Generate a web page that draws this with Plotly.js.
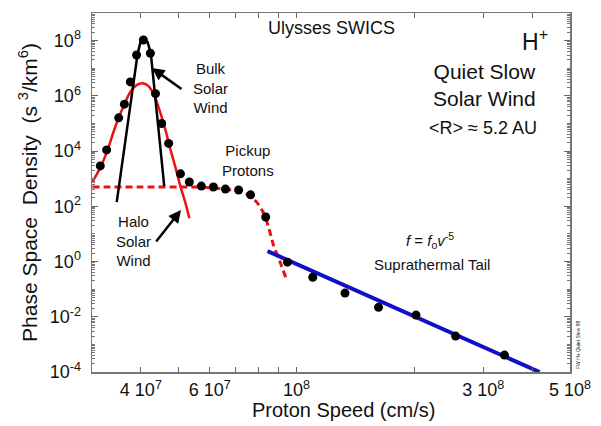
<!DOCTYPE html>
<html>
<head>
<meta charset="utf-8">
<script src="https://cdn.plot.ly/plotly-3.0.1.min.js"></script>
<style>html,body{margin:0;padding:0;background:#fff;}#chart{width:601px;height:426px;}</style>
</head>
<body>
<div id="chart"></div>
<script>
// ---- Data ----
// Measured phase space density points (black dots)
const speedPts = [3.15e7, 3.27e7, 3.51e7, 3.63e7, 3.76e7, 3.90e7, 4.06e7, 4.23e7, 4.36e7, 4.52e7, 4.71e7,
                  5.05e7, 5.32e7, 5.71e7, 6.13e7, 6.58e7, 7.11e7, 7.63e7, 8.34e7, 9.48e7,
                  1.10e8, 1.33e8, 1.62e8, 2.02e8, 2.55e8, 3.40e8];
const densPts  = [2.9e3, 1.1e4, 1.6e5, 5.0e5, 3.2e6, 3.0e7, 1.05e8, 3.5e7, 1.2e6, 1.0e5, 1.9e4,
                  1.5e3, 7.6e2, 5.4e2, 5.0e2, 4.2e2, 3.9e2, 2.6e2, 41, 0.95,
                  0.27, 0.072, 0.022, 0.0115, 0.002, 4.1e-4];

// Bulk solar wind fit (black)
const bulkSpeed = [3.47e7, 3.92e7, 3.99e7, 4.06e7, 4.16e7, 4.24e7, 4.59e7];
const bulkDens  = [141, 3.0e7, 8.9e7, 1.23e8, 8.9e7, 3.55e7, 537];

// Halo solar wind fit (red solid)
const haloSpeed = [3.006e7, 3.155e7, 3.289e7, 3.404e7, 3.508e7, 3.631e7, 3.758e7, 3.899e7, 4.036e7,
                   4.178e7, 4.335e7, 4.487e7, 4.624e7, 4.764e7, 4.909e7, 5.047e7, 5.200e7, 5.321e7];
const haloDens  = [753, 2630, 1.10e4, 4.9e4, 1.58e5, 5.0e5, 1.38e6, 2.45e6, 2.88e6,
                   2.29e6, 9.8e5, 2.4e5, 5.75e4, 1.10e4, 2400, 537, 132, 37];

// Pickup proton model (red dashed)
const pickupSpeed = [3.006e7, 5.14e7, 5.71e7, 6.14e7, 6.58e7, 7.11e7, 7.54e7, 7.91e7, 8.24e7, 8.47e7, 8.73e7, 9.10e7, 9.38e7];
const pickupDens  = [497, 497, 497, 457, 417, 355, 257, 142, 56, 19, 3.9, 0.87, 0.27];

// Suprathermal tail power law (blue)
const tailSpeed = [8.43e7, 4.18e8];
const tailDens  = [2.38, 1.0e-4];

// Axis ticks
const xTickVals = [4e7, 6e7, 1e8, 3e8, 5e8];
const xTickText = ['4 10<sup>7</sup>', '6 10<sup>7</sup>', '10<sup>8</sup>', '3 10<sup>8</sup>', '5 10<sup>8</sup>'];
const xMinorVals = [5e7, 7e7, 8e7, 9e7, 2e8, 4e8];
const yTickVals = [1e-4, 1e-2, 1e0, 1e2, 1e4, 1e6, 1e8];
const yTickText = ['10<sup>-4</sup>', '10<sup>-2</sup>', '10<sup>0</sup>', '10<sup>2</sup>', '10<sup>4</sup>', '10<sup>6</sup>', '10<sup>8</sup>'];

// ---- Layout helpers ----
const L = 92, R = 570, T = 13, B = 372;
const px = x => (x - L) / (R - L);
const py = y => (B - y) / (B - T);
const FONT = '"Liberation Sans", Arial, Helvetica, sans-serif';

// minor ticks on the y axis: odd decades plus 2..9 within each decade
const yMinor = [];
for (let e = -4; e < 9; e++) for (let m = 1; m <= 9; m++) {
  if (m === 1 && e % 2 === 0) continue;
  yMinor.push(m * Math.pow(10, e));
}

const traces = [
  {x: haloSpeed, y: haloDens, mode: 'lines', line: {color: '#ee1111', width: 2.5, shape: 'spline', smoothing: 0.8}, hoverinfo: 'skip'},
  {x: pickupSpeed, y: pickupDens, mode: 'lines', line: {color: '#ee1111', width: 3, dash: '7px,4px', shape: 'spline', smoothing: 0.5}, hoverinfo: 'skip'},
  {x: tailSpeed, y: tailDens, mode: 'lines', line: {color: '#1010c8', width: 4}, hoverinfo: 'skip'},
  {x: bulkSpeed, y: bulkDens, mode: 'lines', line: {color: '#000000', width: 2.5}, hoverinfo: 'skip'},
  {x: speedPts, y: densPts, mode: 'markers', marker: {color: '#000000', size: 9}, hoverinfo: 'skip'}
];

const ann = (x, y, text, size, extra) => Object.assign({
  xref: 'paper', yref: 'paper', x: px(x), y: py(y), text: text, showarrow: false,
  font: {family: FONT, size: size, color: '#111'}, xanchor: 'center', yanchor: 'middle'
}, extra || {});

const layout = {
  width: 601, height: 426,
  margin: {l: L, r: 601 - R, t: T, b: 426 - B},
  paper_bgcolor: '#ffffff', plot_bgcolor: '#ffffff',
  showlegend: false,
  font: {family: FONT, color: '#111'},
  xaxis: {
    type: 'log', range: [Math.log10(3.0e7), Math.log10(5.0e8)],
    tickmode: 'array', tickvals: xTickVals, ticktext: xTickText,
    ticks: 'inside', ticklen: 5, tickwidth: 1, tickcolor: '#666',
    minor: {tickmode: 'array', tickvals: xMinorVals, ticks: 'inside', ticklen: 5, tickcolor: '#666', showgrid: false},
    showline: true, linecolor: '#777', linewidth: 1.5, mirror: 'ticks',
    showgrid: false, zeroline: false,
    tickfont: {family: FONT, size: 18, color: '#111'}, ticklabelstandoff: 1
  },
  yaxis: {
    type: 'log', range: [-4, 9],
    tickmode: 'array', tickvals: yTickVals, ticktext: yTickText,
    ticks: 'inside', ticklen: 6, tickwidth: 1, tickcolor: '#666',
    minor: {tickmode: 'array', tickvals: yMinor, ticks: 'inside', ticklen: 3, tickcolor: '#777', showgrid: false},
    showline: true, linecolor: '#777', linewidth: 1.5, mirror: 'ticks',
    showgrid: false, zeroline: false,
    tickfont: {family: FONT, size: 18, color: '#111'}, ticklabelstandoff: 6,
    title: {text: 'Phase Space&nbsp; Density&nbsp; (s <sup>3</sup>/km<sup>6</sup>)', font: {family: FONT, size: 21, color: '#111'}, standoff: 6}
  },
  annotations: [
    ann(343, 410, 'Proton Speed (cm/s)', 20),
    ann(331, 28, 'Ulysses SWICS', 18),
    ann(535, 40, 'H<sup>+</sup>', 23),
    ann(484, 85, 'Quiet Slow<br>Solar Wind', 21),
    ann(483, 128, '&lt;R&gt; ≈ 5.2 AU', 18),
    ann(210, 88, 'Bulk<br>Solar<br>Wind', 15),
    ann(248, 160, 'Pickup<br>Protons', 15),
    ann(133, 241, 'Halo<br>Solar<br>Wind', 15),
    ann(430, 240, '<i>f</i> = <i>f</i><sub>o</sub><i>v</i><sup>-5</sup>', 15),
    ann(432, 264, 'Suprathermal Tail', 15),
    ann(578, 345, 'FW H+ Quiet Slow 98', 5, {textangle: -90}),
    {xref: 'paper', yref: 'paper', x: px(152), y: py(68), ax: 31, ay: 22, text: '', showarrow: true,
     arrowhead: 2, arrowsize: 1, arrowwidth: 2.5, arrowcolor: '#000'},
    {xref: 'paper', yref: 'paper', x: px(181), y: py(210), ax: -26, ay: 33, text: '', showarrow: true,
     arrowhead: 2, arrowsize: 1, arrowwidth: 2.5, arrowcolor: '#000'}
  ]
};

Plotly.newPlot('chart', traces, layout, {staticPlot: true, displayModeBar: false});
</script>
</body>
</html>
